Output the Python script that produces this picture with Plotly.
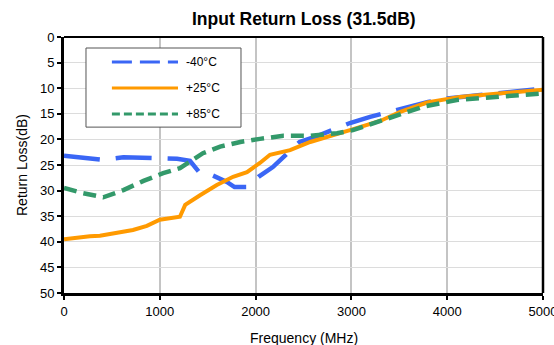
import plotly.graph_objects as go

# ---- data ----
series_names = ["-40°C", "+25°C", "+85°C"]

freq_m40 = [0, 270, 410, 620, 830, 1000, 1180, 1315, 1420, 1500, 1700, 1780, 1910, 2030, 2180, 2460, 2650, 2985, 3195, 3580, 3800, 4000, 4500, 5000]
rl_m40 = [23.2, 23.8, 24.0, 23.5, 23.5, 23.7, 23.8, 24.2, 26.6, 26.6, 28.3, 29.3, 29.3, 27.3, 25.4, 20.5, 19.3, 16.8, 15.6, 13.7, 12.7, 12.0, 11.0, 10.1]

freq_p25 = [0, 80, 270, 375, 720, 865, 1000, 1210, 1265, 1420, 1595, 1765, 1910, 2045, 2150, 2360, 2570, 2985, 3300, 3510, 3790, 4130, 4550, 5000]
rl_p25 = [39.5, 39.3, 38.9, 38.8, 37.7, 36.9, 35.7, 35.1, 32.8, 30.9, 28.9, 27.3, 26.4, 24.6, 23.0, 22.1, 20.5, 18.2, 16.4, 14.6, 12.8, 11.7, 11.1, 10.3]

freq_p85 = [0, 200, 410, 620, 830, 1035, 1210, 1315, 1450, 1630, 1840, 2045, 2220, 2290, 2570, 2850, 3015, 3300, 3400, 3750, 4100, 4520, 5000]
rl_p85 = [29.5, 30.5, 31.3, 29.9, 28.1, 26.6, 25.6, 24.4, 22.7, 21.4, 20.5, 19.9, 19.5, 19.3, 19.3, 18.8, 18.2, 16.5, 15.9, 13.6, 12.3, 11.7, 11.0]

x_ticks = [0, 1000, 2000, 3000, 4000, 5000]
y_ticks = [0, 5, 10, 15, 20, 25, 30, 35, 40, 45, 50]

colors = ["#3a66f5", "#ff9a00", "#33996a"]
dashes = ["36px,16px", "solid", "13px,7px"]
widths = [4.5, 4, 4.5]
legend_dashes = ["20px,8px", "solid", "8px,4px"]

FONT = "Liberation Sans, Arial, sans-serif"

fig = go.Figure()
for name, xs, ys, c, d, w in zip(series_names, [freq_m40, freq_p25, freq_p85],
                                 [rl_m40, rl_p25, rl_p85], colors, dashes, widths):
    fig.add_trace(go.Scatter(x=xs, y=ys, mode="lines", name=name, showlegend=False,
                             line=dict(color=c, dash=d, width=w)))

fig.update_layout(
    width=554, height=345,
    margin=dict(l=64, r=11, t=37, b=52, autoexpand=False),
    plot_bgcolor="white", paper_bgcolor="white",
    font=dict(family=FONT, size=13, color="black"),
    showlegend=False,
)
fig.update_xaxes(range=[0, 5000], tickvals=x_ticks, ticktext=[str(v) for v in x_ticks],
                 showgrid=True, gridcolor="#c4c4c4", gridwidth=2,
                 showline=True, linecolor="black", linewidth=3,
                 ticks="outside", ticklen=4, tickwidth=2, tickcolor="black",
                 zeroline=False, tickfont=dict(size=13), ticklabeloverflow="allow",
                 automargin=False)
fig.update_yaxes(range=[50, 0], tickvals=y_ticks, ticktext=[str(v) for v in y_ticks],
                 showgrid=True, gridcolor="#dcdcdc", gridwidth=1,
                 showline=True, linecolor="black", linewidth=3,
                 ticks="outside", ticklen=4, tickwidth=2, tickcolor="black",
                 zeroline=False, tickfont=dict(size=13), ticklabeloverflow="allow",
                 automargin=False)

# frame top/right
fig.add_shape(type="line", xref="paper", yref="paper", x0=0, x1=1, y0=1, y1=1,
              line=dict(color="black", width=2))
fig.add_shape(type="line", xref="paper", yref="paper", x0=1, x1=1, y0=0, y1=1,
              line=dict(color="black", width=2.5))

# title and axis titles
fig.add_annotation(text="<b>Input Return Loss (31.5dB)</b>", xref="paper", yref="paper",
                   x=0.5, y=1, yanchor="middle", yshift=18, showarrow=False,
                   font=dict(size=17.5, family=FONT))
fig.add_annotation(text="Frequency (MHz)", xref="paper", yref="paper",
                   x=0.5, y=0, yanchor="top", yshift=-35, showarrow=False,
                   font=dict(size=14, family=FONT))
fig.add_annotation(text="Return Loss(dB)", xref="paper", yref="paper",
                   x=0, y=0.5, xshift=-52, textangle=-90, showarrow=False,
                   font=dict(size=14, family=FONT))

# manual legend
fig.add_shape(type="rect", xref="paper", yref="paper", x0=0.0459, x1=0.3695, y0=0.648, y1=0.957,
              line=dict(color="#555555", width=1), fillcolor="white", layer="above")
leg_y = [0.902, 0.801, 0.699]
for name, c, d, ly in zip(series_names, colors, legend_dashes, leg_y):
    fig.add_shape(type="line", xref="paper", yref="paper", x0=0.100, x1=0.238, y0=ly, y1=ly,
                  line=dict(color=c, dash=d, width=3), layer="above")
    fig.add_annotation(text=name, xref="paper", yref="paper", x=0.250, y=ly, xanchor="left",
                       yanchor="middle", showarrow=False, font=dict(size=12, family=FONT))

fig.write_html("out.html")
